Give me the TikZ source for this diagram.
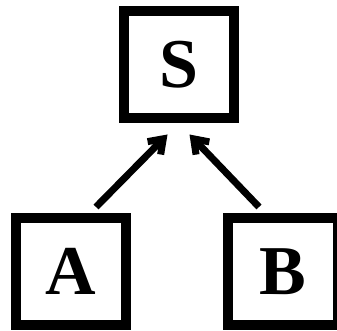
\documentclass[tikz,border=0pt]{standalone}
\usepackage{fontspec}
\setmainfont{Liberation Serif}
\usetikzlibrary{arrows.meta}
\tikzset{
  box/.style={draw, line width=10pt, minimum width=110pt, minimum height=107pt,
    inner sep=0pt, font=\fontsize{70}{70}\selectfont\bfseries},
  arr/.style={line width=7pt, -{Straight Barb[angle=90:13pt, length=13pt]}}
}
\begin{document}
\begin{tikzpicture}[x=1pt,y=1pt]
            \useasboundingbox (0,0) rectangle (337,331);
            \node[box] (S) at (178.5,266) {S};   % top
            \node[box] (A) at (71,59.5) {A};     % left
            \node[box] (B) at (283,59.5) {B};    % right, runs off the edge
            \draw[arr] ([xshift=25pt,yshift=6pt]A.north) -- ([xshift=-11pt,yshift=-11pt]S.south);
            \draw[arr] ([xshift=-24pt,yshift=6pt]B.north) -- ([xshift=11pt,yshift=-11pt]S.south);
        \end{tikzpicture}
\end{document}
